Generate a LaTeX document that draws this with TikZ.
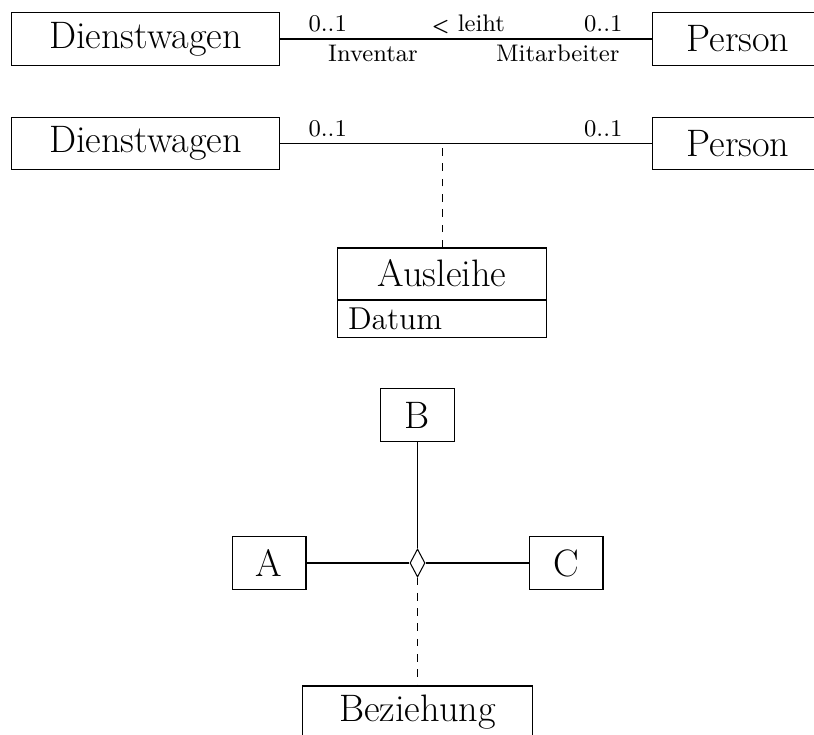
\documentclass[tikz,border=0pt]{standalone}
\usetikzlibrary{shapes.geometric}
\begin{document}
\begin{tikzpicture}[x=0.392pt, y=-0.392pt,
		klasse/.style={draw, font=\fontsize{15}{18}\selectfont, minimum height=20.4pt, inner sep=0pt},
		rolle/.style={font=\fontsize{9.4}{11}\selectfont, anchor=base, inner sep=0pt}]
		\useasboundingbox (0,0) rectangle (814,734);

		% Assoziation mit Leserichtung und Rollen
		\node[klasse, minimum width=105.4pt] (dwa) at (145.5,39) {Dienstwagen};
		\node[klasse, minimum width=67.4pt] (pera) at (738,39) {Person};
		\draw (dwa.east) -- (pera.west);
		\node[rolle, anchor=base west] (mula) at (308,32) {0..1};
		\node[rolle, anchor=base west] (leiht) at (431,32) {{\boldmath$\scriptstyle <$} leiht};
		\node[rolle, anchor=base east] (mulb) at (623,32) {0..1};
		\node[rolle] (inv) at (373,62) {Inventar};
		\node[rolle, anchor=base east] (mit) at (620,62) {Mitarbeiter};

		% Assoziationsklasse
		\node[klasse, minimum width=105.4pt] (dwb) at (145.5,143.5) {Dienstwagen};
		\node[klasse, minimum width=67.4pt] (perb) at (738,143.5) {Person};
		\draw (dwb.east) -- (perb.west);
		\node[rolle, anchor=base west] (mulc) at (308,137) {0..1};
		\node[rolle, anchor=base east] (muld) at (623,137) {0..1};
		\node[klasse, minimum width=82.3pt, minimum height=20pt] (aus) at (442,273.5) {Ausleihe};
		\node[draw, font=\fontsize{12.4}{15}\selectfont, anchor=north, minimum height=14.5pt, inner xsep=4.3pt, inner ysep=0pt,
			text width=73.7pt, align=left] (datum) at (aus.south) {Datum};
		\draw[dashed] (aus.north) -- (aus.north |- dwb.east);

		% n-aere Assoziation
		\node[klasse, minimum width=29pt] (b) at (417.5,415) {B};
		\node[klasse, minimum width=29pt] (a) at (269,563) {A};
		\node[klasse, minimum width=29pt] (c) at (566,563) {C};
		\node[draw, diamond, inner sep=0pt, minimum width=5.9pt, minimum height=11pt] (raute) at (417.5,563) {};
		\draw (b.south) -- (raute.north);
		\draw (a.east) -- (raute.west);
		\draw (raute.east) -- (c.west);
		\node[klasse, minimum width=89.8pt] (bez) at (417.5,712) {Beziehung};
		\draw[dashed] (raute.south) -- (bez.north);
	\end{tikzpicture}
\end{document}
